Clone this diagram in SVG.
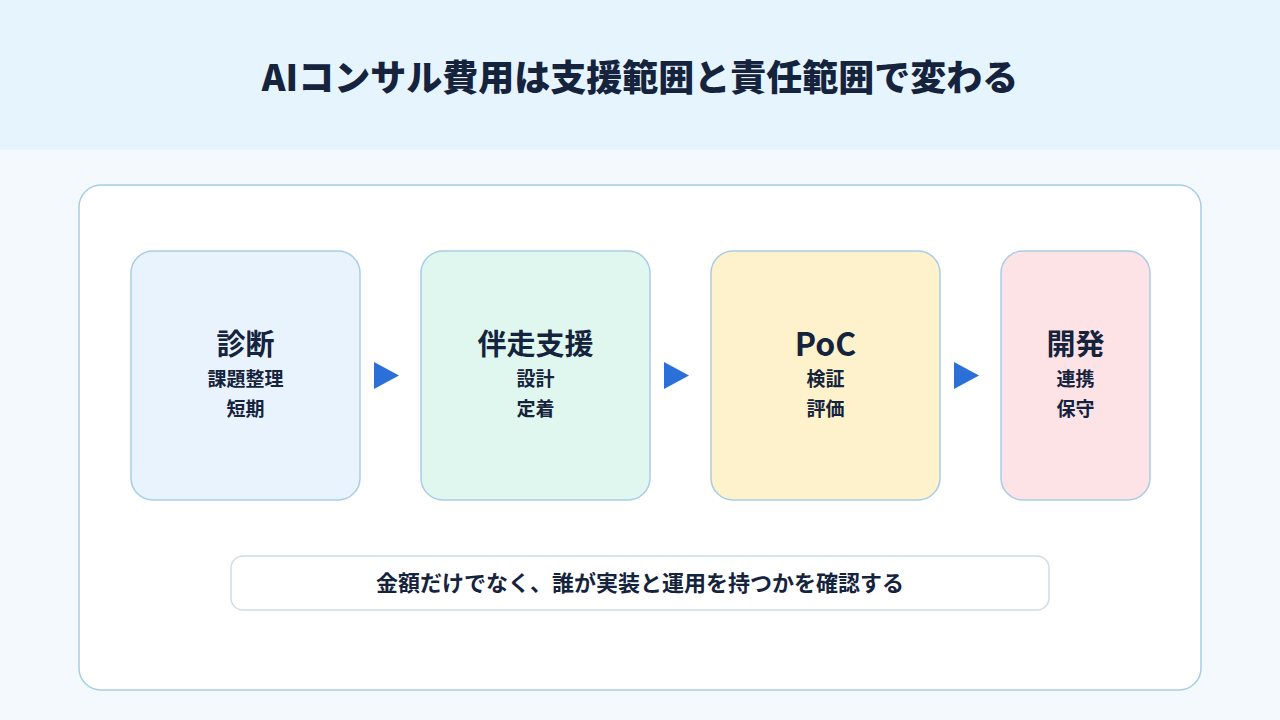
<svg xmlns="http://www.w3.org/2000/svg" width="1280" height="720" viewBox="0 0 1280 720">
  <defs>
    <style>
      text { font-family: "Noto Sans CJK JP", "Noto Sans", sans-serif; font-weight: 700; fill: #15233d; text-anchor: middle; }
      .title { font-size: 36px; font-weight: 800; }
      .ntitle { font-size: 29px; }
      .latin { font-size: 32px; }
      .nsub { font-size: 19px; }
      .note { font-size: 22px; }
      .node rect { stroke: #a9cde6; stroke-width: 1.5; }
      .arrow { fill: #2b6fd9; }
    </style>
  </defs>
  <rect x="0" y="0" width="1280" height="720" fill="#f3f9fd"/>
  <rect x="0" y="0" width="1280" height="150" fill="#e6f4fe"/>
  <text class="title" x="640" y="91">AIコンサル費用は支援範囲と責任範囲で変わる</text>

  <rect x="79" y="185" width="1122" height="505" rx="22" fill="#ffffff" stroke="#a9cde6" stroke-width="1.5"/>

  <g id="node-shindan" class="node">
    <rect x="131" y="251" width="229" height="249" rx="22" fill="#e8f3fd"/>
    <text class="ntitle" x="245.5" y="355">診断</text>
    <text class="nsub" x="245.5" y="386">課題整理</text>
    <text class="nsub" x="245.5" y="416">短期</text>
  </g>
  <g id="node-bansou" class="node">
    <rect x="421" y="251" width="229" height="249" rx="22" fill="#dff7ef"/>
    <text class="ntitle" x="535.5" y="355">伴走支援</text>
    <text class="nsub" x="535.5" y="386">設計</text>
    <text class="nsub" x="535.5" y="416">定着</text>
  </g>
  <g id="node-poc" class="node">
    <rect x="711" y="251" width="229" height="249" rx="22" fill="#fef2cc"/>
    <text class="ntitle latin" x="825.5" y="356">PoC</text>
    <text class="nsub" x="825.5" y="386">検証</text>
    <text class="nsub" x="825.5" y="416">評価</text>
  </g>
  <g id="node-kaihatsu" class="node">
    <rect x="1001" y="251" width="149" height="249" rx="22" fill="#fde2e6"/>
    <text class="ntitle" x="1075.5" y="355">開発</text>
    <text class="nsub" x="1075.5" y="386">連携</text>
    <text class="nsub" x="1075.5" y="416">保守</text>
  </g>

  <g id="connectors">
    <polygon class="arrow" points="374,362 399,375.5 374,389"/>
    <polygon class="arrow" points="664,362 689,375.5 664,389"/>
    <polygon class="arrow" points="954,362 979,375.5 954,389"/>
  </g>

  <g id="note">
    <rect x="231" y="556" width="818" height="54" rx="12" fill="#ffffff" stroke="#d0dce6" stroke-width="1.5"/>
    <text class="note" x="640" y="591">金額だけでなく、誰が実装と運用を持つかを確認する</text>
  </g>
</svg>
